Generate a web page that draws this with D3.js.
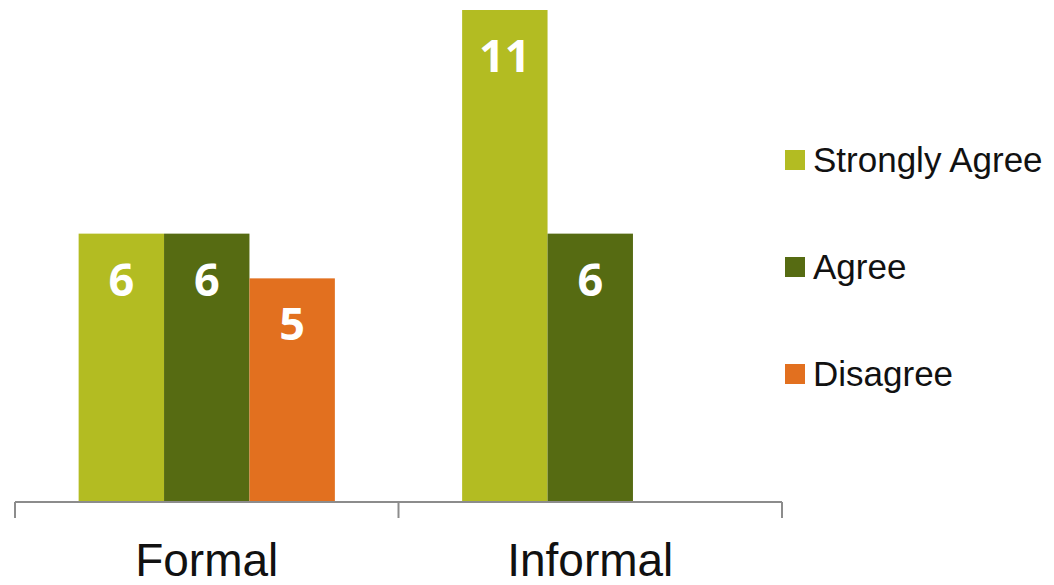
<!DOCTYPE html>
<html>
<head>
<meta charset="utf-8">
<script src="https://cdn.jsdelivr.net/npm/d3@7"></script>
<style>
  body { margin: 0; background: #fff; }
  svg { display: block; }
</style>
</head>
<body>
<script>
// chart data
var categories = ["Formal", "Informal"];
var seriesNames = ["Strongly Agree", "Agree", "Disagree"];
var stronglyAgree = [6, 11];
var agree = [6, 6];
var disagree = [5, null];
var colors = ["#b3bc22", "#566b12", "#e2701f"];

var width = 1054, height = 585;
var baseline = 502;

var svg = d3.select("body").append("svg")
    .attr("width", width)
    .attr("height", height);

// set the ranges
var x0 = d3.scaleBand()
    .domain(categories)
    .range([15, 782])
    .padding(0);
var x1 = d3.scaleBand()
    .domain(seriesNames)
    .range([0, x0.bandwidth()])
    .paddingInner(0)
    .paddingOuter(0.745);
var y = d3.scaleLinear()
    .domain([0, 11])
    .range([baseline, 10]);
var color = d3.scaleOrdinal().domain(seriesNames).range(colors);

var rows = [];
var allValues = [stronglyAgree, agree, disagree];
categories.forEach(function(c, i) {
  seriesNames.forEach(function(s, j) {
    if (allValues[j][i] != null) rows.push({cat: c, series: s, value: allValues[j][i]});
  });
});

// bars
svg.selectAll(".bar")
  .data(rows)
  .enter().append("rect")
  .attr("class", "bar")
  .attr("x", function(d) { return x0(d.cat) + x1(d.series); })
  .attr("width", x1.bandwidth())
  .attr("y", function(d) { return y(d.value); })
  .attr("height", function(d) { return baseline - y(d.value); })
  .attr("fill", function(d) { return color(d.series); });

// value labels
svg.selectAll(".val")
  .data(rows)
  .enter().append("text")
  .attr("class", "val")
  .attr("x", function(d) { return x0(d.cat) + x1(d.series) + x1.bandwidth() / 2; })
  .attr("y", function(d) { return y(d.value) + 62; })
  .attr("text-anchor", "middle")
  .attr("fill", "#fff")
  .style("font-family", "'Open Sans', sans-serif")
  .style("font-weight", "bold")
  .style("font-size", "45px")
  .text(function(d) { return d.value; });

// x axis
var axis = svg.append("g")
  .attr("transform", "translate(0," + baseline + ")")
  .call(d3.axisBottom(x0).tickSize(0).tickFormat(""));
axis.select(".domain").remove();
axis.append("line")
  .attr("x1", 15).attr("x2", 782)
  .attr("stroke", "#8c8c8c").attr("stroke-width", 2);
axis.selectAll(".sep")
  .data([15, 15 + x0.bandwidth(), 782])
  .enter().append("line")
  .attr("class", "sep")
  .attr("x1", function(d) { return d; }).attr("x2", function(d) { return d; })
  .attr("y1", 0).attr("y2", 16)
  .attr("stroke", "#8c8c8c").attr("stroke-width", 2);

svg.selectAll(".cat")
  .data(categories)
  .enter().append("text")
  .attr("class", "cat")
  .attr("x", function(d) { return x0(d) + x0.bandwidth() / 2; })
  .attr("y", 576)
  .attr("text-anchor", "middle")
  .attr("fill", "#111")
  .style("font-family", "'Liberation Sans', Arial, sans-serif")
  .style("font-size", "46px")
  .text(function(d) { return d; });

// legend
var legend = svg.selectAll(".legend")
  .data(seriesNames)
  .enter().append("g")
  .attr("class", "legend")
  .attr("transform", function(d, i) { return "translate(785," + (150 + i * 107) + ")"; });
legend.append("rect")
  .attr("width", 20).attr("height", 20)
  .attr("fill", function(d) { return color(d); });
legend.append("text")
  .attr("x", 28)
  .attr("y", 22)
  .attr("fill", "#111")
  .style("font-family", "'Liberation Sans', Arial, sans-serif")
  .style("font-size", "35px")
  .text(function(d) { return d; });
</script>
</body>
</html>
